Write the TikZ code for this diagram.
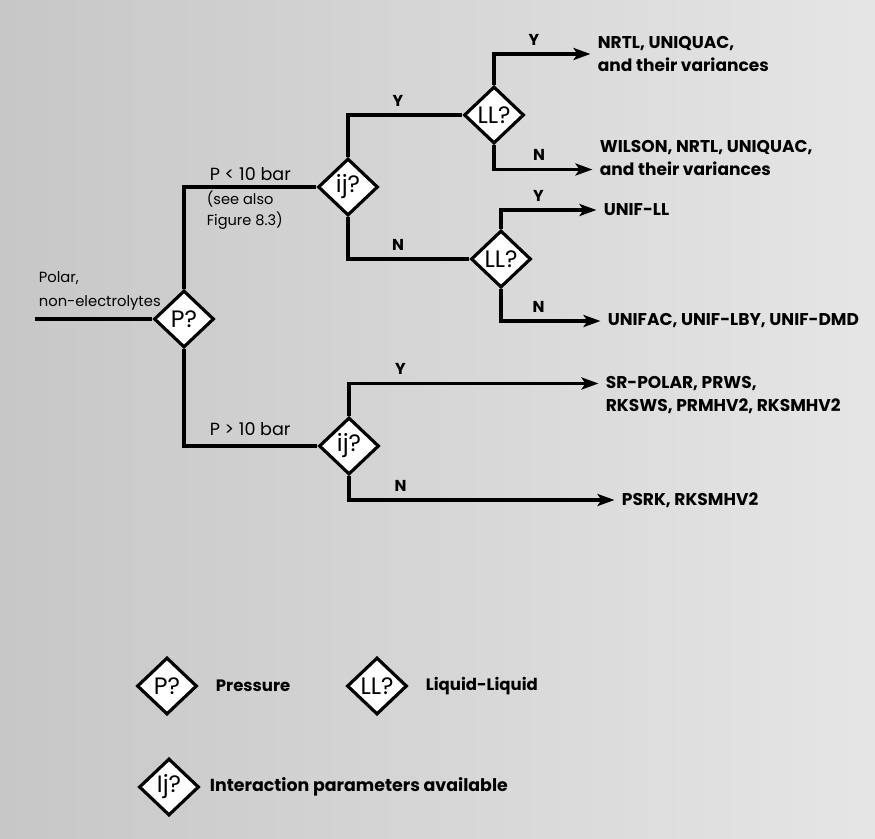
\documentclass[tikz,border=0pt]{standalone}
\usepackage{fontspec}
\setmainfont{Poppins}
\usetikzlibrary{arrows.meta, positioning, shapes.geometric}

\begin{document}
\begin{tikzpicture}[
    x=0.02cm, y=-0.02cm,
    decision/.style={diamond, aspect=1, minimum width=1.2cm, minimum height=1.14cm, inner sep=0pt, draw=black, line width=1.8pt, fill=white, font=\fontsize{13.5}{13.5}\selectfont},
    result/.style={anchor=west, align=left, inner sep=2pt, font=\bfseries\fontsize{9.7}{13}\selectfont},
    note/.style={anchor=west, align=left, inner sep=2pt, font=\fontsize{8.3}{12}\selectfont},
    key/.style={inner sep=2pt, font=\bfseries\fontsize{9.4}{9.4}\selectfont},
    answer/.style={pos=0.5, above, yshift=2pt, inner sep=2pt, font=\bfseries\fontsize{9}{9}\selectfont},
    line/.style={draw=black, line width=2pt},
    arrow/.style={line, -{Stealth[length=3.4mm, width=2.4mm, inset=0.8mm]}, shorten >=2pt}
]
    % background
    \shade[left color=black!22, right color=black!10] (0,0) rectangle (875,838);
    \useasboundingbox (0,0) rectangle (875,838);

    % Decisions
    \node[decision] (p) at (184,319) {P?};
    \node[decision] (ij1) at (348,187) {ij?};
    \node[decision] (ll1) at (494,115) {LL?};
    \node[decision] (ll2) at (501,259) {LL?};
    \node[decision] (ij2) at (349,446) {ij?};

    \coordinate (src) at (35,319);
    \node[note, font=\fontsize{8.4}{13.5}\selectfont] (polar) at (35,291) {Polar,\\non-electrolytes};
    \node[note, font=\fontsize{10}{10}\selectfont] (plow) at (206,174) {P < 10 bar};
    \node[note] (seealso) at (203,210) {(see also\\Figure 8.3)};
    \node[note, font=\fontsize{10}{10}\selectfont] (phigh) at (206,429) {P > 10 bar};

    % Results
    \node[result] (nrtl) at (594,54) {NRTL, UNIQUAC,\\and their variances};
    \node[result] (wilson) at (596,158) {WILSON, NRTL, UNIQUAC,\\and their variances};
    \node[result] (unifll) at (600,210) {UNIF-LL};
    \node[result] (unifac) at (604,321) {UNIFAC, UNIF-LBY, UNIF-DMD};
    \node[result] (srpolar) at (602,395) {SR-POLAR, PRWS,\\RKSWS, PRMHV2, RKSMHV2};
    \node[result] (psrk) at (618,500) {PSRK, RKSMHV2};

    % Connectors
    \draw[line] (src) -- (p.west);
    \draw[line] (p.north) |- (ij1.west);
    \draw[line] (p.south) |- (ij2.west);
    \draw[line] (ij1.north) |- node[answer, xshift=1cm] {Y} (ll1.west);
    \draw[line] (ij1.south) |- node[answer, xshift=1cm] {N} (ll2.west);
    \draw[arrow] (ll1.north) |- node[answer, xshift=0.8cm] {Y} (nrtl.west);
    \draw[arrow] (ll1.south) |- node[answer, xshift=0.9cm] {N} ([yshift=-0.23cm]wilson.west);
    \draw[arrow] (ll2.north) |- node[answer, xshift=0.75cm] {Y} (unifll.west);
    \draw[arrow] (ll2.south) |- node[answer, xshift=0.75cm] {N} (unifac.west);
    \draw[arrow] (ij2.north) |- node[answer, xshift=1.03cm] {Y} ([yshift=0.23cm]srpolar.west);
    \draw[arrow] (ij2.south) |- node[answer, xshift=1.03cm] {N} (psrk.west);

    % Legend
    \node[decision] (keyp) at (167,686) {P?};
    \node[key, right=0.27cm of keyp] (keyptext) {Pressure};
    \node[decision] (keyll) at (377,686) {LL?};
    \node[key, right=0.27cm of keyll] (keylltext) {Liquid-Liquid};
    \node[decision] (keyij) at (169,787) {Ij?};
    \node[key, right=0.11cm of keyij, font=\bfseries\fontsize{9.9}{9.9}\selectfont] (keyijtext) {Interaction parameters available};
\end{tikzpicture}
\end{document}
